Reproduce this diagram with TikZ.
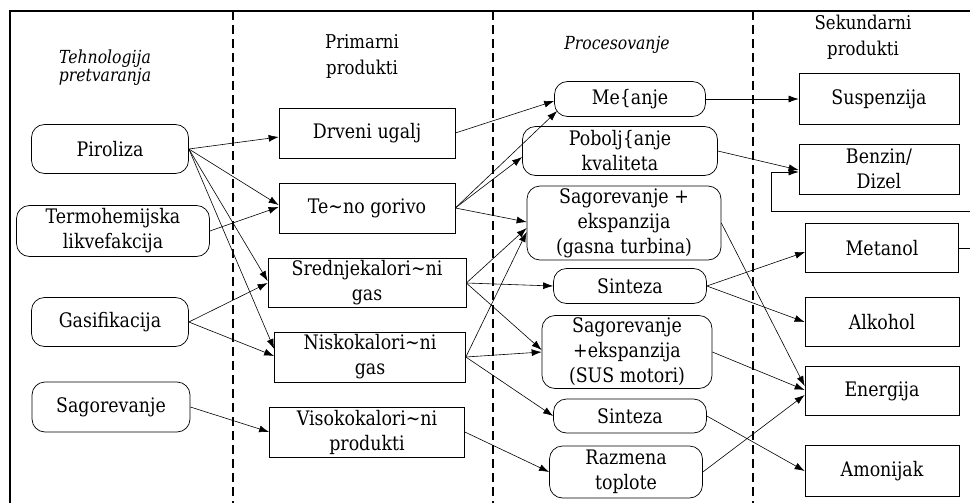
\documentclass[tikz,border=0pt]{standalone}
\usepackage{fontspec}
\setmainfont{DejaVu Serif}[FakeStretch=0.87]
\usetikzlibrary{arrows.meta,calc}
\begin{document}
\begin{tikzpicture}[x=1pt,y=-1pt,
  every node/.style={font=\fontsize{20}{25}\selectfont, inner sep=0pt, align=center},
  techbox/.style={draw, rounded corners=13pt, line width=0.7pt},
  primbox/.style={draw, line width=0.7pt},
  procbox/.style={draw, rounded corners=13pt, line width=0.7pt},
  secbox/.style={draw, line width=0.7pt},
  conn/.style={-{Latex[length=10pt,width=7pt]}, line width=0.6pt},
  plainline/.style={line width=0.6pt},
  divider/.style={dash pattern=on 9pt off 5pt, line width=1.3pt},
  frameline/.style={line width=1.2pt},
  hdr/.style={font=\fontsize{19}{26}\selectfont},
  hdrit/.style={font=\itshape\fontsize{18}{17}\selectfont},
]
\useasboundingbox (0,0) rectangle (970,503);
% frame and dividers
\draw[frameline] (10,503) -- (10,11) -- (970,11);
\draw[divider] (233,11) -- (233,503);
\draw[divider] (493,11) -- (493,503);
\draw[divider] (753,11) -- (753,503);

% headers
\node[hdrit] (h1) at (105,68) {Tehnologija\\pretvaranja};
\node[hdr] (h2) at (362,56) {Primarni\\produkti};
\node[hdrit] (h3) at (617,45) {Procesovanje};
\node[hdr] (h4) at (863,37) {Sekundarni\\produkti};

% technologies
\node[techbox, minimum width=157pt, minimum height=49pt] (piro) at (110,149) {Piroliza};
\node[techbox, minimum width=193pt, minimum height=51pt] (termo) at (113,231) {Termohemijska\\likvefakcija};
\node[techbox, minimum width=157pt, minimum height=49pt] (gasi) at (110,322) {Gasifikacija};
\node[techbox, minimum width=158pt, minimum height=50pt] (sago) at (111,407) {Sagorevanje};

% primary products
\node[primbox, minimum width=176pt, minimum height=50pt] (drv) at (367,133) {Drveni ugalj};
\node[primbox, minimum width=176pt, minimum height=50pt] (ten) at (367,208) {Te\textasciitilde no gorivo};
\node[primbox, minimum width=198pt, minimum height=49pt] (sred) at (367,283) {Srednjekalori\textasciitilde ni\\gas};
\node[primbox, minimum width=191pt, minimum height=50pt] (nisk) at (370,357) {Niskokalori\textasciitilde ni\\gas};
\node[primbox, minimum width=195pt, minimum height=50pt] (viso) at (367,432) {Visokokalori\textasciitilde ni\\produkti};

% processing
\node[procbox, minimum width=151pt, minimum height=35pt] (mes) at (630,99) {Me\{anje};
\node[procbox, minimum width=195pt, minimum height=49pt] (pob) at (620,151) {Pobolj\{anje\\kvaliteta};
\node[procbox, minimum width=194pt, minimum height=74pt] (sgt) at (624,223) {Sagorevanje +\\ekspanzija\\(gasna turbina)};
\node[procbox, minimum width=153pt, minimum height=35pt] (sin1) at (630,286) {Sinteza};
\node[procbox, minimum width=170pt, minimum height=73pt] (sus) at (627,352) {Sagorevanje\\+ekspanzija\\(SUS motori)};
\node[procbox, minimum width=153pt, minimum height=34pt] (sin2) at (630,416) {Sinteza};
\node[procbox, minimum width=153pt, minimum height=52pt] (raz) at (626,472) {Razmena\\toplote};

% secondary products
\node[secbox, minimum width=160pt, minimum height=51pt] (susp) at (879,99) {Suspenzija};
\node[secbox, minimum width=160pt, minimum height=50pt] (benz) at (879,169) {Benzin/\\Dizel};
\node[secbox, minimum width=153pt, minimum height=49pt] (met) at (882,248) {Metanol};
\node[secbox, minimum width=154pt, minimum height=49pt] (alk) at (882,322) {Alkohol};
\node[secbox, minimum width=154pt, minimum height=49pt] (ene) at (882,391) {Energija};
\node[secbox, minimum width=154pt, minimum height=51pt] (amo) at (882,471) {Amonijak};

% technology -> primary
\draw[conn] (piro.east) -- ([yshift=-4pt]drv.west);
\draw[conn] (piro.east) -- ([yshift=3pt]ten.west);
\draw[conn] (piro.east) -- ([yshift=2pt]sred.west);
\draw[conn] (piro.east) -- ([yshift=8pt]nisk.west);
\draw[conn] (termo.east) -- ([yshift=1pt]ten.west);
\draw[conn] (gasi.east) -- (sred.west);
\draw[conn] (gasi.east) -- ([yshift=1pt]nisk.west);
\draw[conn] (sago.east) -- (viso.west);

% primary -> processing
\draw[conn] (drv.east) -- ([yshift=-2pt]mes.west);
\draw[conn] (ten.east) -- ([xshift=3pt,yshift=-12pt]mes.west);
\draw[conn] (ten.east) -- ([yshift=-6pt]pob.west);
\draw[conn] (ten.east) -- ([yshift=1pt]sgt.west);
\draw[conn] (sred.east) -- ([yshift=-5pt]sgt.west);
\draw[conn] (nisk.east) -- ([yshift=-9pt]sgt.west);
\draw[conn] (sred.east) -- (sin1.west);
\draw[conn] (sred.east) -- ([yshift=2pt]sus.west);
\draw[conn] (nisk.east) -- (sus.west);
\draw[conn] (nisk.east) -- (sin2.west);
\draw[conn] (viso.east) -- (raz.west);

% processing -> secondary
\draw[conn] (mes.east) -- (susp.west);
\draw[conn] (pob.east) -- ([yshift=-1pt]benz.west);
\draw[conn] (sgt.east) -- ([yshift=5pt]ene.west);
\draw[conn] (sin1.east) -- ([yshift=-4pt]met.west);
\draw[conn] (sin1.east) -- (alk.west);
\draw[conn] (sus.east) -- ([yshift=1pt]ene.west);
\draw[conn] (sin2.east) -- (amo.west);
\draw[conn] (raz.east) -- ([yshift=-4pt]ene.west);

% recycle loop Metanol -> Benzin
\coordinate (metR) at (970,248);
\coordinate (loopR) at (970,211);
\coordinate (loopL) at (771,211);
\draw[plainline] (met.east) -- (metR);
\draw[conn] (loopR) -- (loopL) |- ([yshift=-3pt]benz.west);
\end{tikzpicture}
\end{document}
